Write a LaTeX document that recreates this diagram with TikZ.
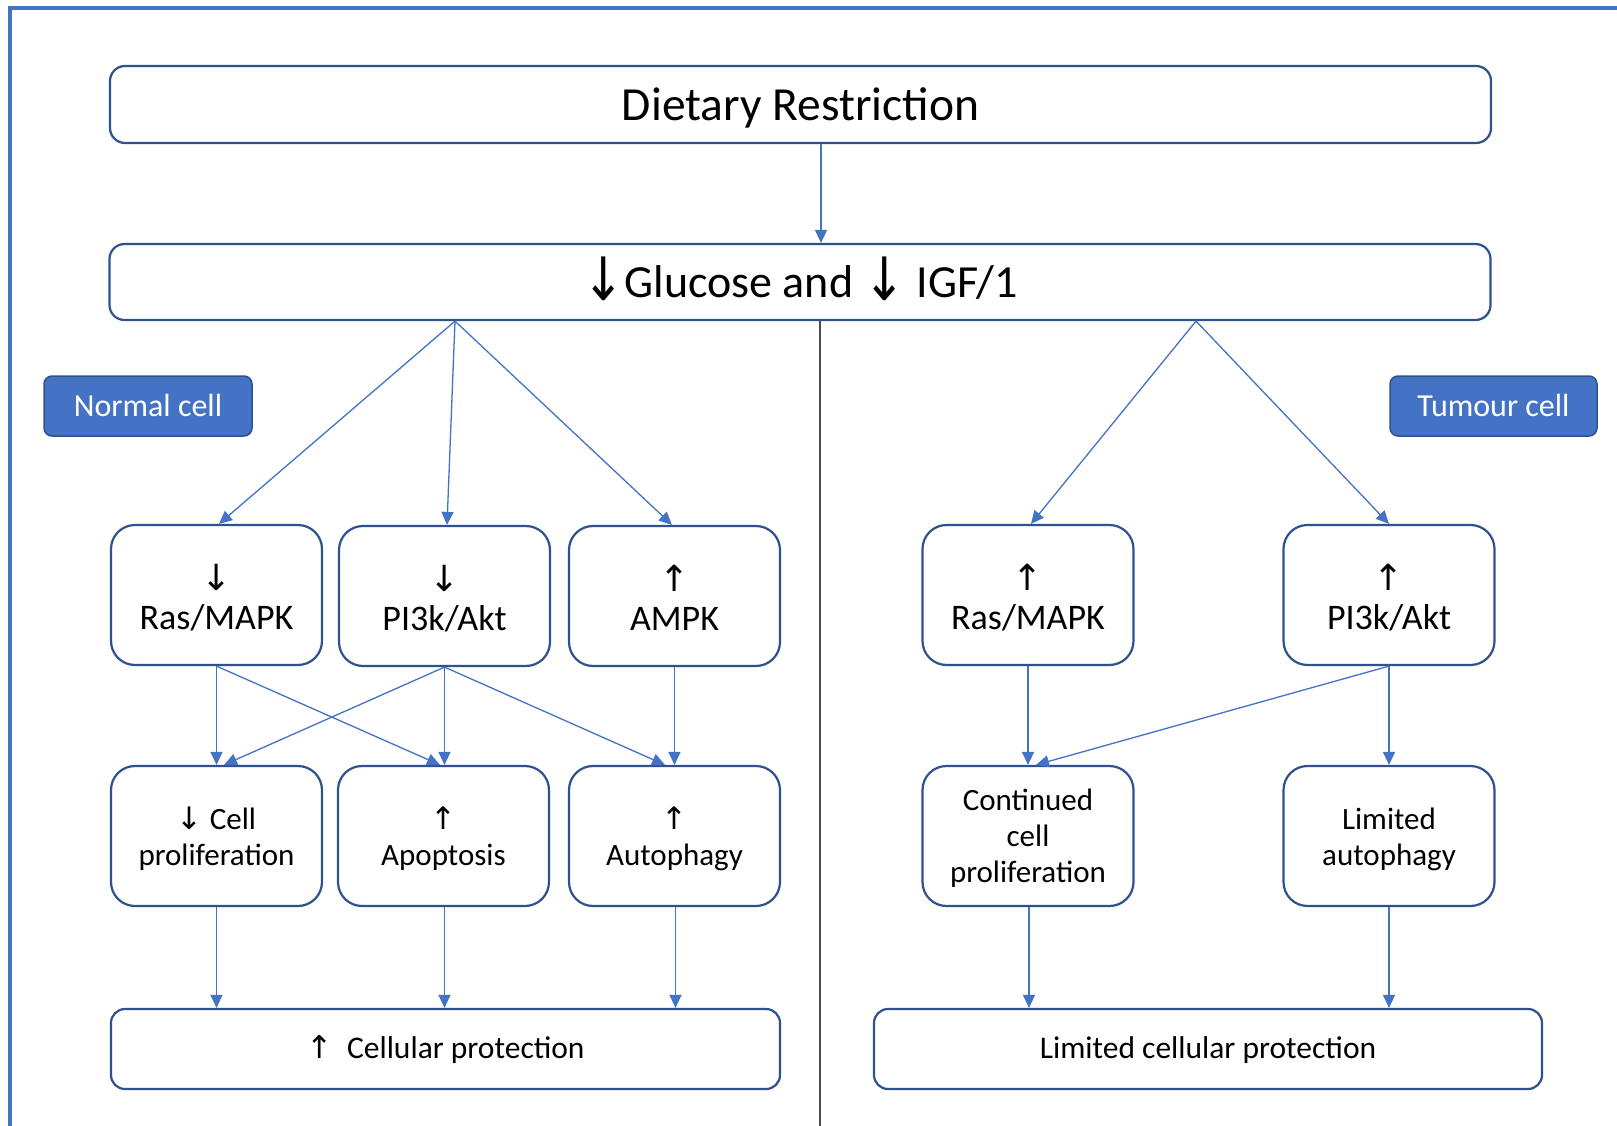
\documentclass[tikz,border=0pt]{standalone}
\usepackage{fontspec}
\usepackage{graphicx}
\setmainfont{Carlito}
\newfontfamily\arr{DejaVu Sans}
\usetikzlibrary{arrows.meta}
\definecolor{acc}{HTML}{4472C4}
\definecolor{edge}{HTML}{2F528F}
\newcommand\bigarr[1]{\smash{\raisebox{-4pt}{\scalebox{1.1}[1.3]{\arr #1}}}}
\newcommand\topst[1]{\rule{0pt}{#1}}
\newcommand\botst[1]{\rule[-#1]{0pt}{#1}}
\begin{document}
\begin{tikzpicture}[x=1pt,y=-1pt,
 frame/.style={draw=acc,line width=4pt},
 bigbox/.style={draw=edge,line width=2.2pt,rounded corners=15pt,inner sep=0pt,minimum width=1381pt,minimum height=77pt,font=\fontsize{46}{55}\selectfont},
 midbox/.style={draw=edge,line width=2.2pt,rounded corners=24pt,inner sep=0pt,minimum width=211pt,minimum height=140pt,align=center},
 sigbox/.style={midbox,font=\fontsize{36}{39}\selectfont},
 outbox/.style={midbox,font=\fontsize{31}{36}\selectfont},
 endbox/.style={draw=edge,line width=2.2pt,rounded corners=14pt,inner sep=0pt,minimum width=669pt,minimum height=80pt,font=\fontsize{31.5}{36}\selectfont},
 tag/.style={fill=acc,draw=edge,line width=1.5pt,rounded corners=8pt,minimum width=208pt,minimum height=60pt,text=white,font=\fontsize{32}{36}\selectfont,inner sep=0pt},
 conn/.style={draw=acc,line width=1.3pt,-{Triangle[length=13pt,width=12pt]}},
 divider/.style={draw=black!70,line width=1.3pt}]
\useasboundingbox (0,0) rectangle (1617,1126);
\fill[white] (0,0) rectangle (1617,1126);
\draw[frame] (9.5,1126) -- (9.5,8) -- (1617,8);

\node[bigbox,font=\fontsize{47.5}{55}\selectfont] (dr) at (800.5,104.5) {\rule[-14pt]{0pt}{60pt}Dietary Restriction};
\node[bigbox,minimum height=76pt] (glu) at (800,282) {\rule[-10pt]{0pt}{50pt}\bigarr{↓}Glucose and \bigarr{↓} IGF/1};

\node[tag] (normal) at (148,406) {Normal cell};
\node[tag,minimum width=207pt] (tumour) at (1493.5,406) {Tumour cell};

\node[sigbox] (ras1) at (216.5,595) {{\arr\topst{39pt}↓}\\Ras/MAPK\botst{9pt}};
\node[sigbox] (pi1) at (444.5,596) {{\arr\topst{39pt}↓}\\PI3k/Akt\botst{9pt}};
\node[sigbox] (ampk) at (674.5,596) {{\arr\topst{39pt}↑}\\AMPK\botst{9pt}};
\node[sigbox] (ras2) at (1028,595) {{\arr\topst{39pt}↑}\\Ras/MAPK\botst{9pt}};
\node[sigbox] (pi2) at (1389,595) {{\arr\topst{39pt}↑}\\PI3k/Akt\botst{9pt}};

\node[outbox] (prol) at (216.5,836) {\topst{32pt}{\arr ↓} Cell\\proliferation\botst{10pt}};
\node[outbox] (apo) at (443.5,836) {\topst{32pt}{\arr ↑}\\Apoptosis\botst{10pt}};
\node[outbox] (aut) at (674.5,836) {\topst{32pt}{\arr ↑}\\Autophagy\botst{10pt}};
\node[outbox] (cont) at (1028,836) {\topst{32pt}Continued\\cell\\proliferation\botst{12pt}};
\node[outbox] (laut) at (1389,836) {\topst{32pt}Limited\\autophagy\botst{10pt}};

\node[endbox] (cp) at (445.5,1049) {\rule[-11pt]{0pt}{41pt}{\arr ↑}\ \ Cellular protection};
\node[endbox,minimum width=668pt] (lcp) at (1208,1049) {\rule[-11pt]{0pt}{41pt}Limited cellular protection};

\coordinate (divtop) at (820,320);
\coordinate (divbot) at (820,1126);
\draw[divider] (divtop) -- (divbot);

\draw[conn] ([xshift=20.5pt]dr.south) -- ([xshift=21pt]glu.north);

\draw[conn] ([xshift=-345pt]glu.south) -- ([xshift=2.5pt]ras1.north);
\draw[conn] ([xshift=-345pt]glu.south) -- ([xshift=2.5pt]pi1.north);
\draw[conn] ([xshift=-345pt]glu.south) -- ([xshift=-2.5pt]ampk.north);
\draw[conn] ([xshift=396pt]glu.south) -- ([xshift=3pt]ras2.north);
\draw[conn] ([xshift=396pt]glu.south) -- (pi2.north);

\draw[conn] (ras1.south) -- (prol.north);
\draw[conn] (ras1.south) -- ([xshift=-3.5pt]apo.north);
\draw[conn] (pi1.south) -- ([xshift=7.5pt]prol.north);
\draw[conn] (pi1.south) -- ([xshift=1pt]apo.north);
\draw[conn] (pi1.south) -- ([xshift=-9.5pt]aut.north);
\draw[conn] (ampk.south) -- (aut.north);
\draw[conn] (ras2.south) -- (cont.north);
\draw[conn] (pi2.south) -- ([xshift=8pt]cont.north);
\draw[conn] (pi2.south) -- (laut.north);

\draw[conn] (prol.south) -- (prol.south |- cp.north);
\draw[conn] ([xshift=1pt]apo.south) -- ([xshift=1pt]apo.south |- cp.north);
\draw[conn] ([xshift=1pt]aut.south) -- ([xshift=1pt]aut.south |- cp.north);
\draw[conn] ([xshift=1pt]cont.south) -- ([xshift=1pt]cont.south |- lcp.north);
\draw[conn] (laut.south) -- (laut.south |- lcp.north);
\end{tikzpicture}
\end{document}
